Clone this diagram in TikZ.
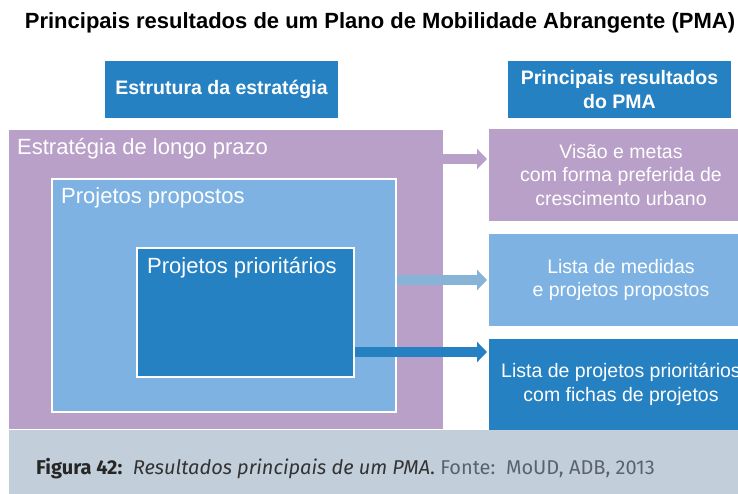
\documentclass[tikz,border=0pt]{standalone}
\usepackage{fontspec}
\setmainfont{Liberation Sans}
\newfontfamily\capfont{Fira Sans}
\usetikzlibrary{arrows.meta}

\definecolor{pmaPurple}{HTML}{B9A0C9}
\definecolor{pmaLight}{HTML}{7DB2E3}
\definecolor{pmaDark}{HTML}{2581C1}
\definecolor{pmaArrow}{HTML}{86B3D6}
\definecolor{pmaBand}{HTML}{C2CFDB}
\definecolor{pmaGrey}{HTML}{5A636B}

\begin{document}
\begin{tikzpicture}[x=1pt,y=-1pt,%%
  boxStyle/.style={rectangle,anchor=north west,inner sep=0pt,outer sep=0pt},%%
  headStyle/.style={boxStyle,fill=pmaDark,text=white,align=center,
    font=\fontsize{19.5}{23.5}\selectfont\bfseries},%%
  frameStyle/.style={boxStyle,draw=white,line width=2pt},%%
  labelStyle/.style={anchor=base west,inner sep=0pt,text=white,
    font=\fontsize{22}{26}\selectfont},%%
  resultStyle/.style={boxStyle,text=white,align=center,
    font=\fontsize{19.5}{23.5}\selectfont},%%
  arrowStyle/.style={-{Triangle[length=10pt,width=20pt]},line width=10pt,
    shorten >=2pt}
]
%%
\useasboundingbox (0,0) rectangle (738,494);
%%
%% Title and the two header boxes.
\node[anchor=base,inner sep=0pt,font=\fontsize{22}{26}\selectfont\bfseries] (title) at (380,29)
  {Principais resultados de um Plano de Mobilidade Abrangente (PMA)};
\node[headStyle,minimum width=233pt,minimum height=57pt] (headLeft) at (105,61)
  {Estrutura da estrat\'egia};
\node[headStyle,minimum width=223pt,minimum height=57pt] (headRight) at (508,61)
  {Principais resultados\\do PMA};
%%
%% Nested boxes of the strategy.
\node[boxStyle,fill=pmaPurple,minimum width=434pt,minimum height=299pt] (outer) at (9,130) {};
\node[frameStyle,fill=pmaLight,minimum width=344pt,minimum height=233pt] (proposed) at (52,179) {};
\node[frameStyle,fill=pmaDark,minimum width=217pt,minimum height=129pt] (priority) at (137,248) {};
\node[labelStyle] (outerLabel) at ([shift={(8,25)}]outer.north west)
  {Estrat\'egia de longo prazo};
\node[labelStyle] (proposedLabel) at ([shift={(9,25)}]proposed.north west)
  {Projetos propostos};
\node[labelStyle] (priorityLabel) at ([shift={(10,25)}]priority.north west)
  {Projetos priorit\'arios};
%%
%% Result boxes on the right.
\node[resultStyle,fill=pmaPurple,minimum width=264pt,minimum height=92pt] (resVision) at (489,129)
  {Vis\~ao e metas\\com forma preferida de\\crescimento urbano};
\node[resultStyle,fill=pmaLight,minimum width=264pt,minimum height=92pt] (resList) at (489,234)
  {Lista de medidas\\e projetos propostos};
\node[resultStyle,fill=pmaDark,minimum width=264pt,minimum height=91pt] (resPriority) at (489,339)
  {Lista de projetos priorit\'arios\\com fichas de projetos};
%%
%% Arrows from the strategy to the results.
\coordinate (arrowA) at (0,159);
\coordinate (arrowB) at (0,280);
\coordinate (arrowC) at (0,352);
\draw[arrowStyle,pmaPurple] (outer.east |- arrowA) -- (resVision.west |- arrowA);
\draw[arrowStyle,pmaArrow,shorten <=1pt] (proposed.east |- arrowB) -- (resList.west |- arrowB);
\draw[arrowStyle,pmaDark,shorten <=1pt] (priority.east |- arrowC) -- (resPriority.west |- arrowC);
%%
%% Caption band.
\node[boxStyle,fill=pmaBand,minimum width=729pt,minimum height=64pt] (band) at (9,430) {};
\node[anchor=base west,inner sep=0pt,font=\capfont\fontsize{20}{24}\selectfont] (caption)
  at (36,474) {\textbf{\color{black!85}Figura 42:}\ \ {\itshape\color{black!80}Resultados
  principais de um PMA}{\color{black!80}.} {\color{pmaGrey}Fonte:\ \ MoUD, ADB, 2013}};
\end{tikzpicture}
\end{document}
